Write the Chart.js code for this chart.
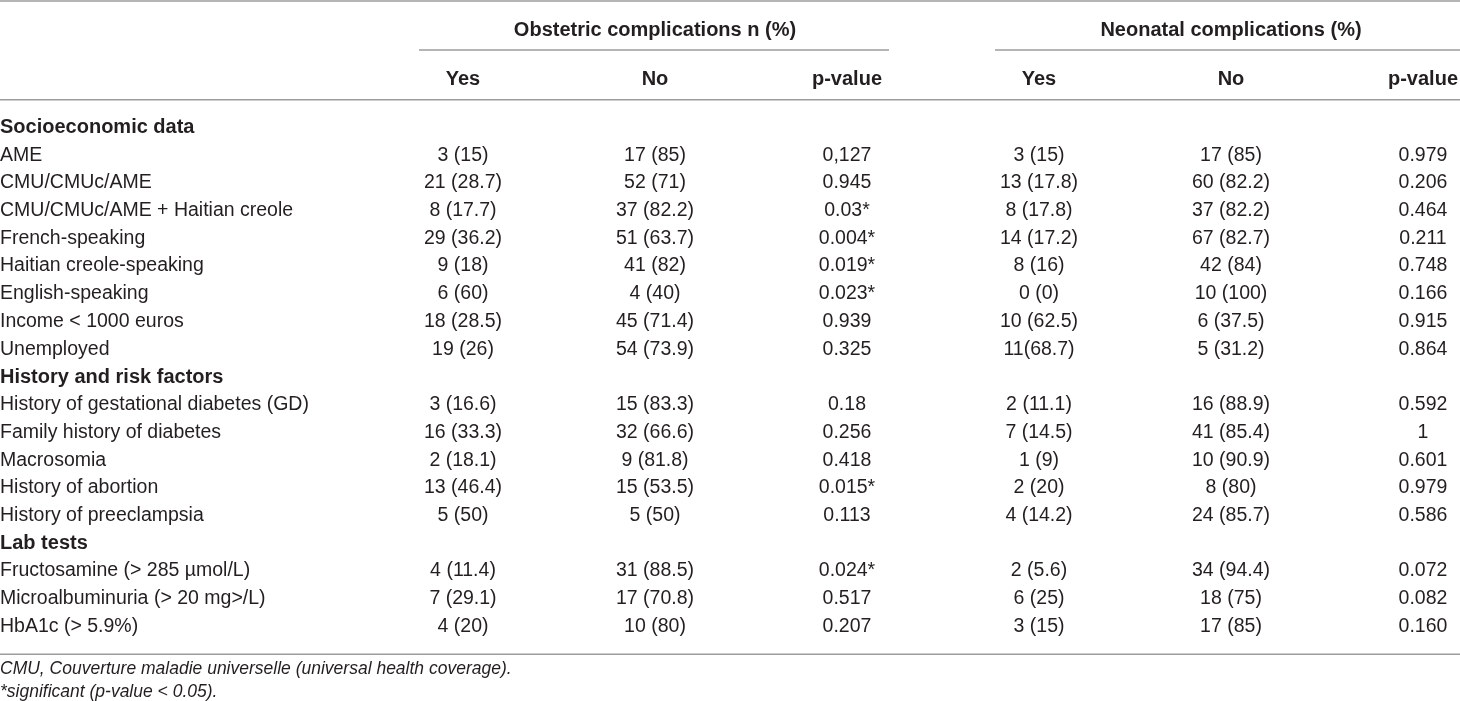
<!DOCTYPE html>
<html lang="en">
<head>
  <meta charset="utf-8">
  <title>Obstetric and neonatal complications</title>
  <script src="https://cdn.jsdelivr.net/npm/chart.js"></script>
  <style>
    html, body { margin: 0; padding: 0; background: #ffffff; }
    .wrap { position: relative; width: 1460px; height: 701px; }
  </style>
</head>
<body>
  <div class="wrap"><canvas id="tbl"></canvas></div>
  <script>
    // table content
    const rowLabels = [
      'Socioeconomic data', 'AME', 'CMU/CMUc/AME', 'CMU/CMUc/AME + Haitian creole', 'French-speaking',
      'Haitian creole-speaking', 'English-speaking', 'Income < 1000 euros', 'Unemployed',
      'History and risk factors', 'History of gestational diabetes (GD)', 'Family history of diabetes',
      'Macrosomia', 'History of abortion', 'History of preeclampsia',
      'Lab tests', 'Fructosamine (> 285 µmol/L)', 'Microalbuminuria (> 20 mg>/L)', 'HbA1c (> 5.9%)'
    ];
    const sectionRows = ['Socioeconomic data', 'History and risk factors', 'Lab tests'];
    const columnLabels = ['Yes', 'No', 'p-value', 'Yes', 'No', 'p-value'];
    const groupLabels = ['', 'Obstetric complications n (%)', '', '', 'Neonatal complications (%)', ''];

    const obsYes = ['', '3 (15)', '21 (28.7)', '8 (17.7)', '29 (36.2)', '9 (18)', '6 (60)', '18 (28.5)', '19 (26)',
                    '', '3 (16.6)', '16 (33.3)', '2 (18.1)', '13 (46.4)', '5 (50)', '', '4 (11.4)', '7 (29.1)', '4 (20)'];
    const obsNo  = ['', '17 (85)', '52 (71)', '37 (82.2)', '51 (63.7)', '41 (82)', '4 (40)', '45 (71.4)', '54 (73.9)',
                    '', '15 (83.3)', '32 (66.6)', '9 (81.8)', '15 (53.5)', '5 (50)', '', '31 (88.5)', '17 (70.8)', '10 (80)'];
    const obsP   = ['', '0,127', '0.945', '0.03*', '0.004*', '0.019*', '0.023*', '0.939', '0.325',
                    '', '0.18', '0.256', '0.418', '0.015*', '0.113', '', '0.024*', '0.517', '0.207'];
    const neoYes = ['', '3 (15)', '13 (17.8)', '8 (17.8)', '14 (17.2)', '8 (16)', '0 (0)', '10 (62.5)', '11(68.7)',
                    '', '2 (11.1)', '7 (14.5)', '1 (9)', '2 (20)', '4 (14.2)', '', '2 (5.6)', '6 (25)', '3 (15)'];
    const neoNo  = ['', '17 (85)', '60 (82.2)', '37 (82.2)', '67 (82.7)', '42 (84)', '10 (100)', '6 (37.5)', '5 (31.2)',
                    '', '16 (88.9)', '41 (85.4)', '10 (90.9)', '8 (80)', '24 (85.7)', '', '34 (94.4)', '18 (75)', '17 (85)'];
    const neoP   = ['', '0.979', '0.206', '0.464', '0.211', '0.748', '0.166', '0.915', '0.864',
                    '', '0.592', '1', '0.601', '0.979', '0.586', '', '0.072', '0.082', '0.160'];

    const footnotes = [
      'CMU, Couverture maladie universelle (universal health coverage).',
      '*significant (p-value < 0.05).'
    ];

    const FONT = "'Liberation Sans', Arial, Helvetica, sans-serif";
    const TEXT = '#231f20';
    const RULE = '#9c9c9c';

    // one dataset per column; x / y are category indices (parsing off)
    const columns = [obsYes, obsNo, obsP, neoYes, neoNo, neoP];
    const datasets = columns.map((vals, c) => ({
      label: columnLabels[c],
      data: vals.map((v, r) => ({ x: c, y: r, text: v })),
      pointRadius: 0,
      showLine: false
    }));

    function hline(ctx, x0, x1, y) {
      ctx.beginPath();
      ctx.moveTo(x0, y);
      ctx.lineTo(x1, y);
      ctx.stroke();
    }

    // cell texts, rules and footnotes
    const tablePlugin = {
      id: 'tablePlugin',
      beforeDraw(chart) {
        const ctx = chart.ctx;
        ctx.save();
        ctx.fillStyle = '#ffffff';
        ctx.fillRect(0, 0, chart.width, chart.height);
        ctx.restore();
      },
      afterDatasetsDraw(chart) {
        const ctx = chart.ctx;
        ctx.save();
        ctx.font = '19.5px ' + FONT;
        ctx.fillStyle = TEXT;
        ctx.textAlign = 'center';
        ctx.textBaseline = 'middle';
        chart.data.datasets.forEach((ds, i) => {
          chart.getDatasetMeta(i).data.forEach((pt, j) => {
            const t = ds.data[j].text;
            if (t) ctx.fillText(t, pt.x, pt.y);
          });
        });
        ctx.restore();
      },
      afterDraw(chart) {
        const ctx = chart.ctx;
        const x = chart.scales.x, y = chart.scales.y, g = chart.scales.group;
        const W = chart.width;
        const step = y.getPixelForValue(1) - y.getPixelForValue(0);
        const lastY = y.getPixelForValue(rowLabels.length - 1);
        ctx.save();
        ctx.strokeStyle = RULE;
        ctx.lineWidth = 1.5;
        hline(ctx, 0, W, 1);
        [[0, 2], [3, 5]].forEach(([a, b]) => {
          const x0 = x.getPixelForValue(a) - 44;
          const x1 = Math.min(W, x.getPixelForValue(b) + 42);
          hline(ctx, x0, x1, g.bottom);
        });
        hline(ctx, 0, W, chart.chartArea.top - step);
        const bottomRule = lastY + step;
        hline(ctx, 0, W, bottomRule);
        ctx.font = 'italic 17.5px ' + FONT;
        ctx.fillStyle = TEXT;
        ctx.textAlign = 'left';
        ctx.textBaseline = 'middle';
        footnotes.forEach((f, i) => ctx.fillText(f, 0, bottomRule + 15 + i * 22.5));
        ctx.restore();
      }
    };

    const noPad = s => { s.paddingLeft = 0; s.paddingRight = 0; };

    new Chart(document.getElementById('tbl'), {
      type: 'scatter',
      data: { datasets: datasets },
      plugins: [tablePlugin],
      options: {
        responsive: true,
        maintainAspectRatio: false,
        animation: false,
        parsing: false,
        events: [],
        layout: { padding: { left: 0, right: 37, top: 0, bottom: 74.5 } },
        plugins: { legend: { display: false }, tooltip: { enabled: false } },
        scales: {
          x: {
            type: 'category', labels: columnLabels, position: 'top', offset: false, weight: 0,
            grid: { display: false, drawTicks: false }, border: { display: false },
            ticks: { autoSkip: false, maxRotation: 0, padding: 36.3, color: TEXT,
                     font: { family: FONT, size: 20, weight: 'bold' } },
            afterFit: s => { s.height = 77.5; noPad(s); }
          },
          group: {
            type: 'category', labels: groupLabels, position: 'top', offset: false, weight: 1,
            grid: { display: false, drawTicks: false }, border: { display: false },
            ticks: { autoSkip: false, maxRotation: 0, padding: 7.5, color: TEXT,
                     font: { family: FONT, size: 20, weight: 'bold' } },
            afterFit: s => { s.height = 50; noPad(s); }
          },
          y: {
            type: 'category', labels: rowLabels, offset: false,
            grid: { display: false, drawTicks: false }, border: { display: false },
            ticks: {
              autoSkip: false, crossAlign: 'far', padding: 0, color: TEXT,
              font: c => ({ family: FONT, size: sectionRows.includes(rowLabels[c.index]) ? 20 : 19.5,
                            weight: sectionRows.includes(rowLabels[c.index]) ? 'bold' : 'normal' })
            },
            afterFit: s => { s.width = 463; s.paddingTop = 0; s.paddingBottom = 0; }
          }
        }
      }
    });
  </script>
</body>
</html>
